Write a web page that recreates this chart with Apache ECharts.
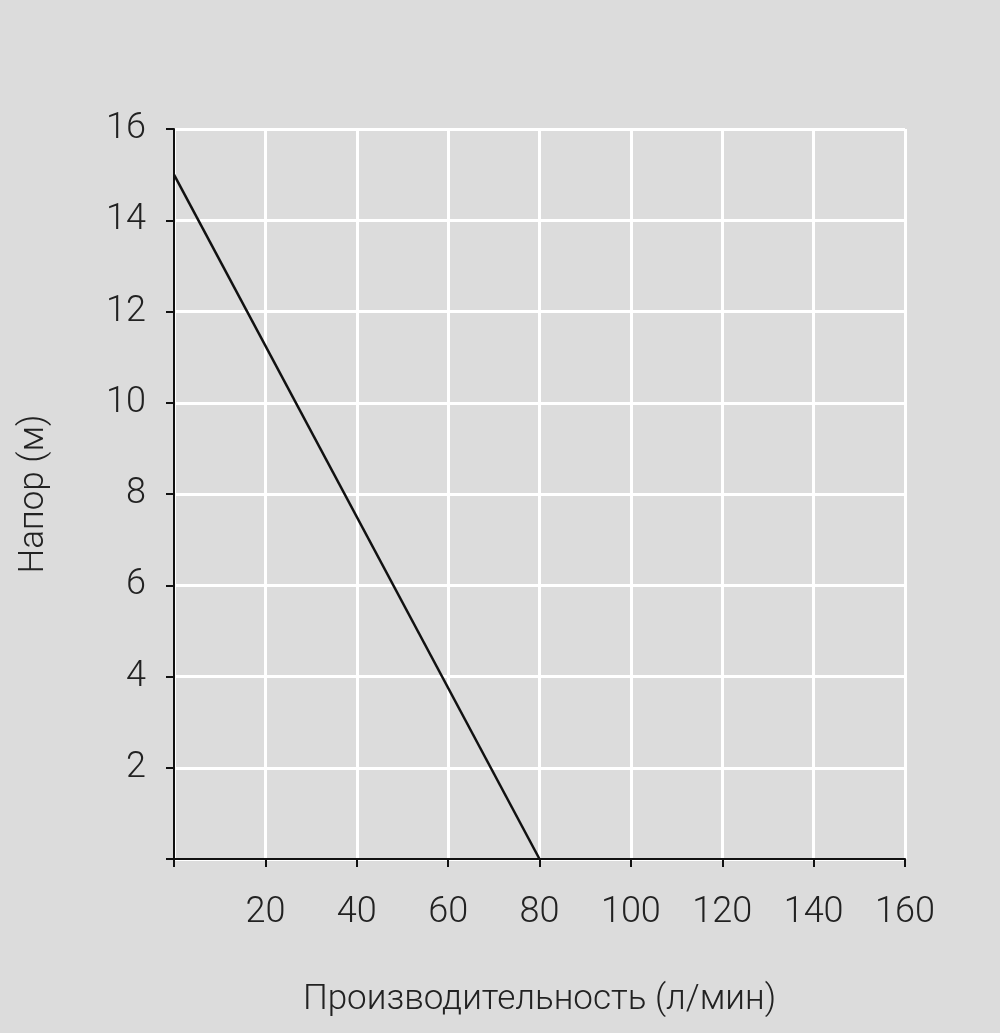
<!DOCTYPE html>
<html>
<head>
<meta charset="utf-8">
<script src="https://cdn.jsdelivr.net/npm/echarts@6/dist/echarts.min.js"></script>
<style>html,body{margin:0;padding:0;background:#dcdcdc}#chart{width:1000px;height:1033px}</style>
</head>
<body>
<div id="chart"></div>
<script>
// flow (l/min) vs head (m)
var flow = [0, 80];
var head = [15, 0];

var chart = echarts.init(document.getElementById('chart'));
chart.setOption({
    backgroundColor: '#dcdcdc',
    animation: false,
    grid: { left: 174, right: 95, top: 129, bottom: 174 },
    xAxis: {
        type: 'value', min: 0, max: 160, interval: 20,
        name: 'Производительность (л/мин)',
        nameLocation: 'middle', nameGap: 124,
        nameTextStyle: { fontFamily: 'Roboto', fontSize: 35, fontWeight: 300, color: '#222' },
        axisLine: { lineStyle: { color: '#111', width: 2 } },
        axisTick: { show: true, length: 8, lineStyle: { color: '#111', width: 2 } },
        axisLabel: { fontFamily: 'Roboto', fontSize: 36, fontWeight: 300, color: '#222', margin: 36,
            formatter: function (v) { return v === 0 ? '' : v; } },
        splitLine: { lineStyle: { color: '#fff', width: 3 } }
    },
    yAxis: {
        type: 'value', min: 0, max: 16, interval: 2,
        name: 'Напор (м)',
        nameLocation: 'middle', nameGap: 122,
        nameTextStyle: { fontFamily: 'Roboto', fontSize: 35, fontWeight: 300, color: '#222' },
        axisLine: { show: true, lineStyle: { color: '#111', width: 2 } },
        axisTick: { show: true, length: 8, lineStyle: { color: '#111', width: 2 } },
        axisLabel: { fontFamily: 'Roboto', fontSize: 36, fontWeight: 300, color: '#222', margin: 28,
            formatter: function (v) { return v === 0 ? '' : v; } },
        splitLine: { lineStyle: { color: '#fff', width: 3 } }
    },
    series: [{
        type: 'line',
        data: flow.map(function (x, i) { return [x, head[i]]; }),
        showSymbol: false,
        lineStyle: { color: '#111', width: 2.5 }
    }]
});
</script>
</body>
</html>
